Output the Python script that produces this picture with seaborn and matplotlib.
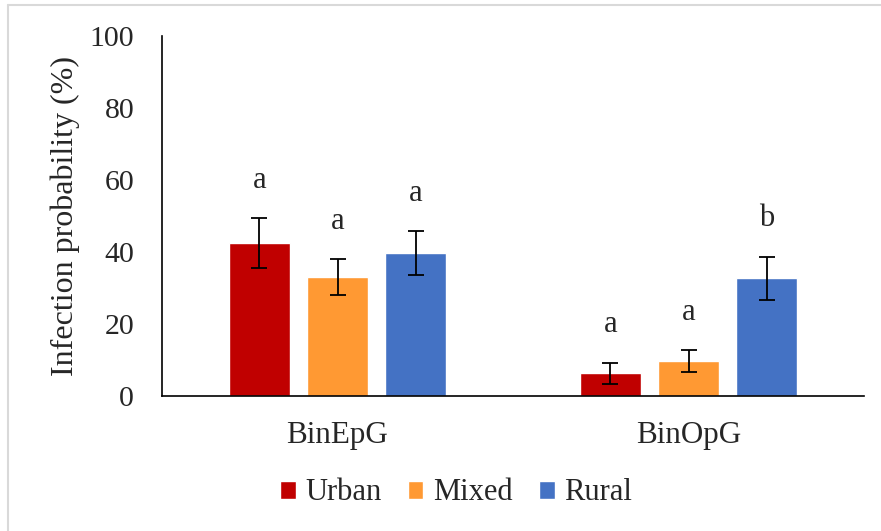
import matplotlib
matplotlib.use("Agg")
import matplotlib.pyplot as plt
import seaborn as sns
import pandas as pd
from matplotlib.lines import Line2D

categories = ["BinEpG", "BinOpG"]
groups = ["Urban", "Mixed", "Rural"]
urban = [42.5, 6.3]
mixed = [33.0, 9.7]
rural = [39.7, 32.7]
urban_err = [7.0, 3.0]
mixed_err = [5.0, 3.0]
rural_err = [6.0, 6.0]
urban_letters = ["a", "a"]
mixed_letters = ["a", "a"]
rural_letters = ["a", "b"]
yticks = [0, 20, 40, 60, 80, 100]
colors = ["#C00000", "#FF9933", "#4472C4"]

sns.set_style("white")
plt.rcParams["font.family"] = ["Liberation Serif", "DejaVu Serif"]

values = {"Urban": urban, "Mixed": mixed, "Rural": rural}
errs = {"Urban": urban_err, "Mixed": mixed_err, "Rural": rural_err}
letters = {"Urban": urban_letters, "Mixed": mixed_letters, "Rural": rural_letters}

rows = []
for g in groups:
    for c, v in zip(categories, values[g]):
        rows.append({"Category": c, "Group": g, "Value": v})
df = pd.DataFrame(rows)

fig = plt.figure(figsize=(8.81, 5.31), dpi=100)
ax = fig.add_axes([162 / 881, 1 - 396 / 531, (864 - 162) / 881, (396 - 36) / 531])

sns.barplot(data=df, x="Category", y="Value", hue="Group", order=categories,
            hue_order=groups, palette=colors, errorbar=None, width=0.667,
            gap=0.22, saturation=1, ax=ax, legend=True)

for g, cont in zip(groups, ax.containers):
    for bar, e, lab in zip(cont, errs[g], letters[g]):
        xc = bar.get_x() + bar.get_width() / 2
        h = bar.get_height()
        ax.errorbar(xc, h, yerr=e, fmt="none", ecolor="black", elinewidth=1.3,
                    capsize=5.5, capthick=1.3, zorder=5)
        ax.text(xc, h + e + 10.5, lab, ha="center", va="center", fontsize=22)

ax.set_ylim(0, 100)
ax.set_xlim(-0.5, 1.5)
ax.set_yticks(yticks)
ax.set_yticklabels([str(t) for t in yticks], fontsize=21.5)
ax.tick_params(axis="y", direction="out", length=9, width=1, color="black", pad=11)
ax.tick_params(axis="x", length=0, labelsize=22.4, pad=18)
ax.set_xlabel("")
ax.set_ylabel("Infection probability (%)", fontsize=23)
ax.yaxis.set_label_coords(-0.117, 0.5)
for s in ["top", "right"]:
    ax.spines[s].set_visible(False)
for s in ["left", "bottom"]:
    ax.spines[s].set_color("black")
    ax.spines[s].set_linewidth(1.2)

handles, labels = ax.get_legend_handles_labels()
ax.legend_.remove()
fig.legend(handles, labels, loc="center", bbox_to_anchor=(456 / 881, 1 - 493 / 531),
           ncol=3, frameon=False, fontsize=22, handlelength=0.52, handleheight=0.52,
           handletextpad=0.32, columnspacing=0.85)

fig.add_artist(Line2D([8 / 881, 1], [1 - 5 / 531, 1 - 5 / 531], transform=fig.transFigure,
                      color="#d9d9d9", linewidth=1.5))
fig.add_artist(Line2D([8 / 881, 8 / 881], [0, 1 - 5 / 531], transform=fig.transFigure,
                      color="#d9d9d9", linewidth=1.5))

fig.savefig("out.png", dpi=100)
